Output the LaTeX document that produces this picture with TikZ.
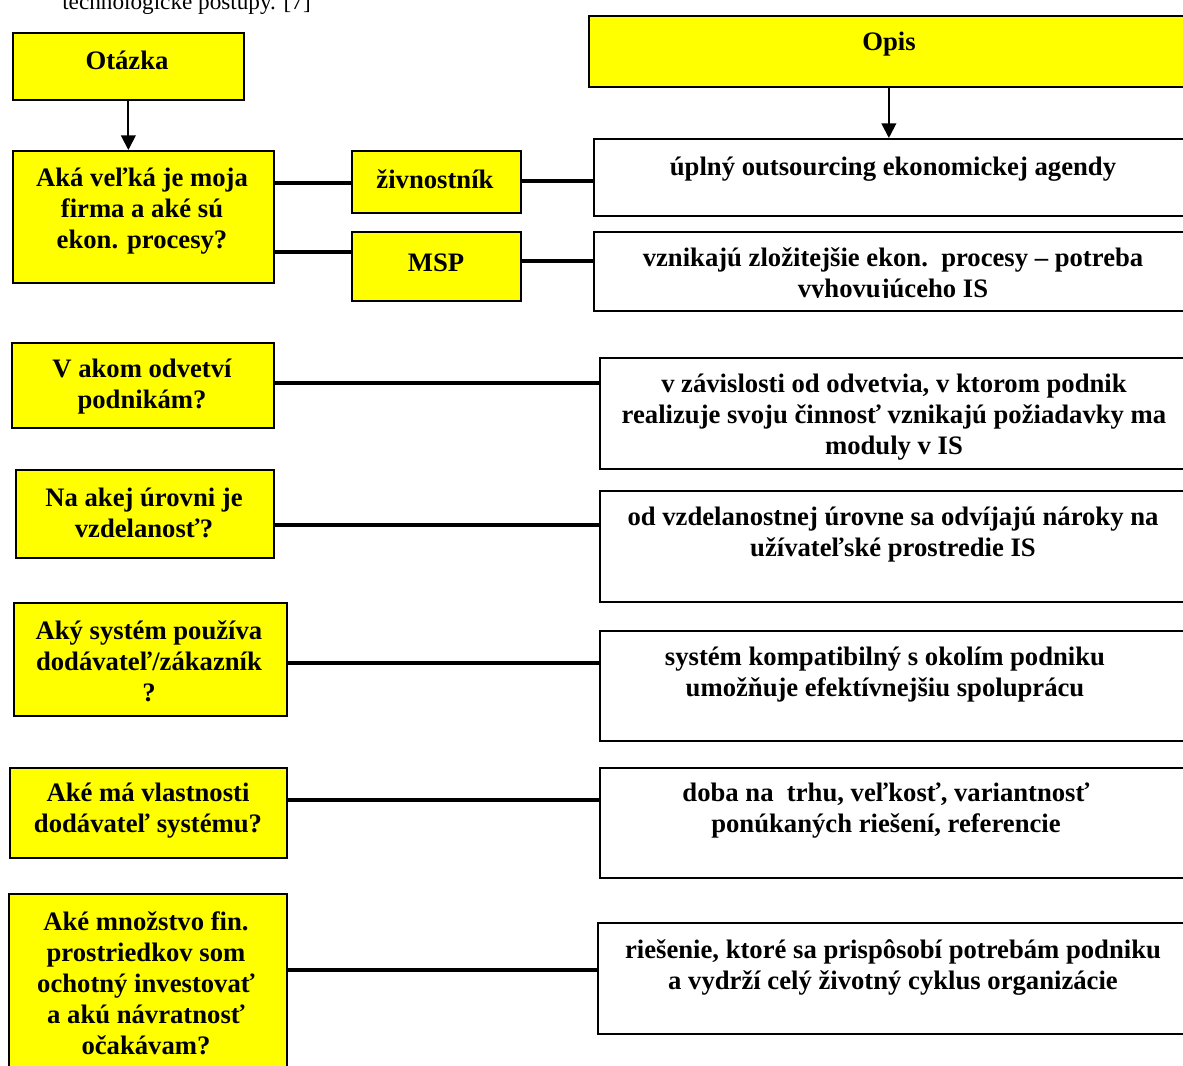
\documentclass[tikz,border=0pt]{standalone}
\usepackage{fontspec}
\setmainfont{Liberation Serif}
\usetikzlibrary{arrows.meta}
\newcommand\px{0.75pt}
\definecolor{yel}{RGB}{255,255,0}
\begin{document}
\begin{tikzpicture}[x=0.75pt,y=-0.75pt,
  ybox/.style={draw=black, line width=1.3pt, fill=yel, inner sep=0pt, anchor=north west},
  wbox/.style={draw=black, line width=1.3pt, fill=white, inner sep=0pt, anchor=north west},
  txt/.style={font=\fontsize{20}{23.25}\selectfont\bfseries, align=center, inner sep=0pt, yshift=-1.2pt},
  link/.style={line width=3pt},
  arr/.style={line width=1.5pt, -{Triangle[width=11pt,length=11pt]}}]
\useasboundingbox (0,0) rectangle (1183,1066);
\fill[white] (0,0) rectangle (1183,1066);

% caption text, cut off at the top edge as in the reference
\node[anchor=base west, inner sep=0pt, font=\fontsize{17.4}{20}\selectfont] (cap) at (62,10) {technologické postupy. [7]};

% boxes
\node[ybox, minimum width=231*\px, minimum height=67*\px] (ot) at (12,32) {};
\node[ybox, minimum width=600*\px, minimum height=71*\px] (op) at (588,15) {};
\node[ybox, minimum width=261*\px, minimum height=132*\px] (q1) at (12,150) {};
\node[ybox, minimum width=169*\px, minimum height=62*\px] (zi) at (351,150) {};
\node[ybox, minimum width=169*\px, minimum height=69*\px] (ms) at (351,231) {};
\node[wbox, minimum width=600*\px, minimum height=77*\px] (a1) at (593,138) {};
\node[wbox, minimum width=600*\px, minimum height=79*\px] (a2) at (593,231) {};
\node[ybox, minimum width=262*\px, minimum height=85*\px] (q2) at (11,342) {};
\node[wbox, minimum width=600*\px, minimum height=111*\px] (b2) at (599,357) {};
\node[ybox, minimum width=258*\px, minimum height=88*\px] (q3) at (15,469) {};
\node[wbox, minimum width=600*\px, minimum height=111*\px] (b3) at (599,490) {};
\node[ybox, minimum width=273*\px, minimum height=113*\px] (q4) at (13,602) {};
\node[wbox, minimum width=600*\px, minimum height=110*\px] (b4) at (599,630) {};
\node[ybox, minimum width=277*\px, minimum height=90*\px] (q5) at (9,767) {};
\node[wbox, minimum width=600*\px, minimum height=110*\px] (b5) at (599,767) {};
\node[ybox, minimum width=278*\px, minimum height=190*\px] (q6) at (8,893) {};
\node[wbox, minimum width=600*\px, minimum height=111*\px] (b6) at (597,922) {};

% texts
\node[txt] (tot) at (127,59) {Otázka};
\node[txt] (top) at (889,42) {Opis};
\node[txt] (tq1) at (142,209.5) {Aká veľká je moja\\firma a aké sú\\ekon. procesy?};
\node[txt] (tzi) at (435,178) {živnostník};
\node[txt] (tms) at (436,261) {MSP};
\node[txt] (ta1) at (893,168) {úplný outsourcing ekonomickej agendy};
\begin{scope}
\clip (593,231) rectangle (1183,298);
\node[txt] (ta2) at (893,273.5) {vznikajú zložitejšie ekon.\ \ procesy – potreba\\vyhovujúceho IS};
\end{scope}
\node[txt] (tq2) at (142,385) {V akom odvetví\\podnikám?};
\node[txt] (tb2) at (894,415.5) {v závislosti od odvetvia, v ktorom podnik\\realizuje svoju činnosť vznikajú požiadavky ma\\moduly v IS};
\node[txt] (tq3) at (144,511.5) {Na akej úrovni je\\vzdelanosť?};
\node[txt] (tb3) at (893,533) {od vzdelanostnej úrovne sa odvíjajú nároky na\\užívateľské prostredie IS};
\node[txt] (tq4) at (149,660) {Aký systém používa\\dodávateľ/zákazník\\?};
\node[txt] (tb4) at (885,672.5) {systém kompatibilný s okolím podniku\\umožňuje efektívnejšiu spoluprácu};
\node[txt] (tq5) at (148,809) {Aké má vlastnosti\\dodávateľ systému?};
\node[txt] (tb5) at (886,808.5) {doba na\ \ trhu, veľkosť, variantnosť\\ponúkaných riešení, referencie};
\node[txt] (tq6) at (146,982) {Aké množstvo fin.\\prostriedkov som\\ochotný investovať\\a akú návratnosť\\očakávam?};
\node[txt] (tb6) at (893,965.5) {riešenie, ktoré sa prispôsobí potrebám podniku\\a vydrží celý životný cyklus organizácie};

% connector levels
\coordinate (y1) at (0,183);
\coordinate (y2) at (0,252);
\coordinate (y3) at (0,181);
\coordinate (y4) at (0,261);
\coordinate (y5) at (0,383);
\coordinate (y6) at (0,525);
\coordinate (y7) at (0,663);
\coordinate (y8) at (0,800);
\coordinate (y9) at (0,970);

% arrows
\draw[arr] (ot.south) -- (ot.south |- q1.north);
\draw[arr] (op.south) -- (op.south |- a1.north);

% links
\draw[link] (q1.east |- y1) -- (zi.west |- y1);
\draw[link] (q1.east |- y2) -- (ms.west |- y2);
\draw[link] (zi.east |- y3) -- (a1.west |- y3);
\draw[link] (ms.east |- y4) -- (a2.west |- y4);
\draw[link] (q2.east |- y5) -- (b2.west |- y5);
\draw[link] (q3.east |- y6) -- (b3.west |- y6);
\draw[link] (q4.east |- y7) -- (b4.west |- y7);
\draw[link] (q5.east |- y8) -- (b5.west |- y8);
\draw[link] (q6.east |- y9) -- (b6.west |- y9);
\end{tikzpicture}
\end{document}
